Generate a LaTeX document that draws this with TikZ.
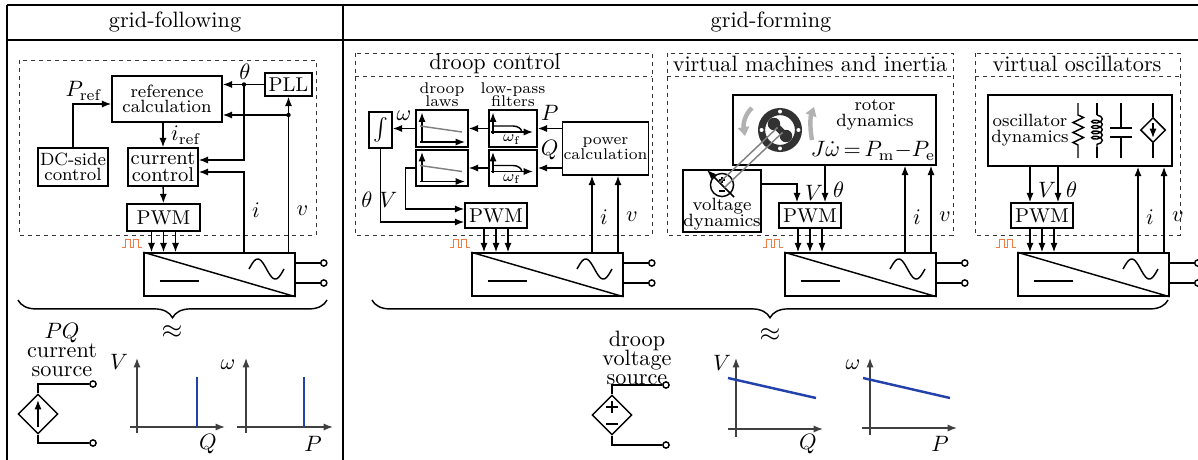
\documentclass[tikz,border=0pt]{standalone}
\usepackage{amsmath}
\usetikzlibrary{arrows.meta,shapes.geometric,decorations.pathreplacing,decorations.pathmorphing}
\definecolor{pulsecol}{RGB}{240,125,70}
\definecolor{curvecol}{RGB}{35,65,170}
\definecolor{rotorcol}{RGB}{50,50,50}
\tikzset{
  >={Latex[length=4.2pt,width=3.2pt]},
  box/.style={draw, inner sep=0.5pt, align=center},
  grp/.style={draw=black!80, line width=0.45pt, dash pattern=on 2pt off 1.6pt},
  term/.style={circle, draw, fill=white, inner sep=0pt, minimum size=2.8pt},
  dsrc/.style={diamond, draw, aspect=1, inner sep=0pt, minimum size=18pt},
  conv/.style={draw, minimum width=68pt, minimum height=19.4pt, inner sep=0pt},
  pwm/.style={box, font=\small, minimum width=27.9pt, minimum height=11.3pt},
  curve/.style={draw=curvecol, line width=1.1pt},
  axis/.style={->, draw=black!75},
}
\begin{document}
\begin{tikzpicture}[x=0.45pt, y=-0.45pt, line width=0.65pt]
\useasboundingbox (0,0) rectangle (1198,459);
\clip (0,0) rectangle (1198,459);
% table frame
\draw[line width=1pt] (7,5) -- (1210,5) (7,40) -- (1210,40) (7,5) -- (7,470) (343,5) -- (343,470);
\node (hdf) at (175,22) {grid-following};
\node (hdg) at (771,22) {grid-forming};

% grid-following
\draw[grp] (19,60) rectangle (316,235);
\node[box, font=\small, minimum width=21.2pt, minimum height=10.4pt] (pll) at (288.5,84.5) {PLL};
\node[box, font=\footnotesize, minimum width=49.5pt, minimum height=20.7pt] (refc) at (167,99) {reference\\[-2.5pt]calculation};
\node[box, font=\footnotesize, minimum width=31.5pt, minimum height=17.1pt] (dcs) at (73,167) {DC-side\\[-2.5pt]control};
\node[box, font=\small, minimum width=31.5pt, minimum height=17.1pt] (cc) at (163,167) {current\\[-3pt]control};
\node[pwm, minimum width=32.9pt, minimum height=12.2pt] (pwm1) at (163.5,217.5) {PWM};
\node[conv] (conv1) at (219.5,274.5) {};
\coordinate (thA) at (244,84.5);
\coordinate (vA) at (288.5,115);
\draw[->] (pll) -- (refc.east |- pll);
\draw[->] (thA) |- (cc.east |- 0,160);
\draw[->] (conv1.north -| pll) -- (pll) node[pos=0.27, right] (lvA) {$v$};
\draw[->] (vA) -- (refc.east |- vA);
\draw[->] (conv1.north -| thA) |- (cc.east |- 0,172) node[pos=0.26, right] (liA) {$i$};
\fill (thA) circle (1pt) (vA) circle (1pt);
\node (lthA) at (245,72) {$\theta$};
\draw[->] (refc.south -| cc.north) -- (cc.north) node[midway, right] (lirefA) {$i_{\mathrm{ref}}$};
\draw[->] (dcs.north) |- (refc.west |- 0,104);
\node (lprefA) at (84,91) {$P_{\mathrm{ref}}$};
\draw[->] (cc) -- (pwm1);
\draw[decorate, decoration={brace, mirror, amplitude=8pt}] (18,300) -- (327,300);
\node[font=\large] (apxA) at (172,332) {$\approx$};
\node[align=center] (lpqA) at (62,350) {$PQ$\\[-3.5pt]current\\[-3.5pt]source};
\node[dsrc] (srcA) at (38,414) {};
\draw[->] ([shift={(0,13)}]srcA.center) -- ([shift={(0,-14)}]srcA.center);
\node[term] (tA1) at (93,384) {};
\node[term] (tA2) at (93,443) {};
\draw (srcA.north) |- (tA1);
\draw (srcA.south) |- (tA2);
\draw[axis] (130,427) -- (225,427);
\draw[axis] (137,433) -- (137,358);
\node (lVA) at (119,362) {$V$};
\node (lQA) at (208,444) {$Q$};
\draw[curve] (197,377) -- (197,427);
\draw[axis] (237,427) -- (333,427);
\draw[axis] (246,433) -- (246,358);
\node (lwA) at (228,365) {$\omega$};
\node (lPA) at (313,444) {$P$};
\draw[curve] (304,377) -- (304,427);

% droop control
\draw[grp] (355,53) rectangle (652,235);
\draw[grp] (355,76) -- (652,76);
\node (ttlB) at (495,64) {droop control};
\node[box, minimum width=10.4pt, minimum height=16.2pt] (intg) at (380.5,130) {$\int$};
\node[box, minimum width=23.4pt, minimum height=16.7pt] (dl1) at (442,128.5) {};
\node[box, minimum width=23.4pt, minimum height=16.2pt] (dl2) at (442,168) {};
\node[box, minimum width=21.6pt, minimum height=16.7pt] (lp1) at (513,128.5) {};
\node[box, minimum width=21.6pt, minimum height=16.2pt] (lp2) at (513,168) {};
\node[box, font=\scriptsize, minimum width=38.3pt, minimum height=23.9pt] (pc) at (605.5,148.5) {power\\[-1.2pt]calculation};
\node[pwm] (pwm2) at (496,215.5) {PWM};
\node[conv] (conv2) at (547.5,274.5) {};
\node[font=\scriptsize, align=center] (ldl) at (442,95) {droop\\[-2pt]laws};
\node[font=\scriptsize, align=center] (llp) at (513,95) {low-pass\\[-2pt]filters};
\draw[->] (pc.west |- lp1) -- (lp1) node[midway, above] (lPB) {$P$};
\draw[->] (pc.west |- lp2) -- (lp2) node[midway, above] (lQB) {$Q$};
\draw[->] (lp1) -- (dl1);
\draw[->] (lp2) -- (dl2);
\draw[->] (dl1.west) -- (dl1.west -| intg.east) node[midway, above] (lwB) {$\omega$};
\draw[->] (intg) |- ([shift={(0,6.5)}]pwm2.west) node[pos=0.35, left] (lthB) {$\theta$};
\draw[->] (dl2.west) -- ++(-10,0) |- ([shift={(0,-6.5)}]pwm2.west) node[pos=0.39, left] (lVB) {$V$};
\draw[->] (conv2.north -| 592,0) -- (pc.south -| 592,0) node[pos=0.46, right] (liB) {$i$};
\draw[->] (conv2.north -| 618,0) -- (pc.south -| 618,0) node[pos=0.46, right] (lvB) {$v$};
\foreach \n in {1,2} {
  \draw[->] ([shift={(-20,14)}]dl\n.center) -- ([shift={(-20,-16)}]dl\n.center);
  \draw[->] ([shift={(-22,13.5)}]dl\n.center) -- ([shift={(23,13.5)}]dl\n.center);
  \draw[gray] ([shift={(-22,-2.5)}]dl\n.center) -- ([shift={(20,3.5)}]dl\n.center);
  \draw[->] ([shift={(-20,5)}]lp\n.center) -- ([shift={(-20,-16)}]lp\n.center);
  \draw[->] ([shift={(-22,3.5)}]lp\n.center) -- ([shift={(20,3.5)}]lp\n.center);
  \draw[shift={(lp\n.center)}] (-20,-2.5) -- (0,-2.5) .. controls (5,-2.5) and (8,0) .. (9,3.5);
  \node[font=\scriptsize] (wf\n) at ([shift={(-1,11)}]lp\n.center) {$\omega_{\mathrm{f}}$};
}
\draw[decorate, decoration={brace, mirror, amplitude=8pt}] (372,300) -- (1168,300);
\node[font=\large] (apxB) at (770,335) {$\approx$};
\node[align=center] (ldvs) at (637,358) {droop\\[-3.5pt]voltage\\[-3.5pt]source};
\node[dsrc] (srcB) at (612,415) {};
\draw (606,407) -- (618,407) (612,401) -- (612,413) (606,424) -- (618,424);
\node[term] (tB1) at (666,385) {};
\node[term] (tB2) at (666,445) {};
\draw (srcB.north) |- (tB1);
\draw (srcB.south) |- (tB2);
\draw[axis] (728,429) -- (823,429);
\draw[axis] (736,437) -- (736,358);
\node (lVB2) at (722,363) {$V$};
\node (lQB2) at (808,444) {$Q$};
\draw[curve] (728,378) -- (816,398);
\draw[axis] (862,428) -- (957,428);
\draw[axis] (870,435) -- (870,358);
\node (lwB2) at (853,365) {$\omega$};
\node (lPB2) at (940,444) {$P$};
\draw[curve] (863,378) -- (950,398);

% virtual machines and inertia
\draw[grp] (667,53) rectangle (953,235);
\draw[grp] (667,76) -- (953,76);
\node (ttlC) at (810,64) {virtual machines and inertia};
\node[box, minimum width=91.4pt, minimum height=31.5pt] (rd) at (834.5,130) {};
\node[font=\footnotesize, align=center, inner sep=0.5pt] (lrd) at (875,115) {rotor\\[-2.5pt]dynamics};
\node[inner sep=0.5pt] (lswing) at (873,151) {$J\dot{\omega}\,{=}\,P_{\mathrm{m}}{-}P_{\mathrm{e}}$};
\node[box, minimum width=35.1pt, minimum height=27.9pt] (vd) at (722,201) {};
\node[font=\footnotesize, align=center, anchor=south, inner sep=0.5pt] (lvd) at ([shift={(0,-1)}]vd.south) {voltage\\[-2.5pt]dynamics};
\node[pwm] (pwm3) at (810,215.5) {PWM};
\node[conv] (conv3) at (860.5,274.5) {};
% rotor
\draw[black!30, line width=2pt, -{Triangle[length=4pt,width=5pt]}] (752,108) .. controls (745,114) and (743,124) .. (745,136);
\draw[black!30, line width=2pt, -{Triangle[length=4pt,width=5pt]}] (812,140) .. controls (810,130) and (810,118) .. (814,107);
\draw[rotorcol, line width=3.2pt] (780,130) circle (8.3pt);
\foreach \a in {0,90,180,270} \fill[white] ([shift={(\a:8.3pt)}]780,130) circle (0.9pt);
\fill[rotorcol] (774,124) circle (2.8pt) (786,136) circle (2.8pt);
\draw[rotorcol, line width=3pt] (774,124) -- (786,136);
% voltage source with shaft
\draw (722,185) circle (5.2pt);
\draw (719,180) -- (725,180) (722,177) -- (722,183) (719,191) -- (725,191);
\draw[->] (734,197) -- (707,170);
\draw[gray] (719.5,182.5) -- (777.5,127.5) (724.5,187.5) -- (782.5,132.5);
\draw[->] (vd.east |- 0,184) -| (pwm3.north -| 797,0) node[pos=0.75, right] (lVC) {$V$};
\draw[->] (rd.south -| 825,0) -- (pwm3.north -| 825,0) node[pos=0.65, right] (lthC) {$\theta$};
\draw[->] (conv3.north -| 905,0) -- (rd.south -| 905,0) node[pos=0.41, right] (liC) {$i$};
\draw[->] (conv3.north -| 931,0) -- (rd.south -| 931,0) node[pos=0.41, right] (lvC) {$v$};

% virtual oscillators
\draw[grp] (975,53) rectangle (1180,235);
\draw[grp] (975,76) -- (1180,76);
\node (ttlD) at (1077,64) {virtual oscillators};
\node[box, minimum width=82.8pt, minimum height=32pt] (od) at (1080,130.5) {};
\node[font=\footnotesize, align=center] (lod) at (1030,130) {oscillator\\[-2.5pt]dynamics};
\draw (1078,103) -- (1078,115) -- (1083.5,117.5) -- (1073,122.5) -- (1083.5,127.5) -- (1073,132.5) -- (1083.5,137.5) -- (1073,142.5) -- (1078,145) -- (1078,158);
\draw (1097,103) -- (1097,115) (1097,147) -- (1097,158);
\draw[decorate, decoration={coil, aspect=0.5, segment length=2.4pt, amplitude=2.4pt}] (1097,115) -- (1097,147);
\draw (1121,103) -- (1121,128) (1110,128) -- (1132,128) (1110,137) -- (1132,137) (1121,137) -- (1121,158);
\node[dsrc, minimum size=11.3pt] (csrc) at (1153,130) {};
\draw (1153,103) -- (csrc.north) (csrc.south) -- (1153,158);
\draw[->] ([shift={(0,-7)}]csrc.center) -- ([shift={(0,8)}]csrc.center);
\node[pwm] (pwm4) at (1042,215.5) {PWM};
\node[conv] (conv4) at (1093.5,274.5) {};
\draw[->] (od.south -| 1030,0) -- (pwm4.north -| 1030,0) node[pos=0.65, right] (lVD) {$V$};
\draw[->] (od.south -| 1058,0) -- (pwm4.north -| 1058,0) node[pos=0.65, right] (lthD) {$\theta$};
\draw[->] (conv4.north -| 1138,0) -- (od.south -| 1138,0) node[pos=0.41, right] (liD) {$i$};
\draw[->] (conv4.north -| 1164,0) -- (od.south -| 1164,0) node[pos=0.41, right] (lvD) {$v$};

% converters
\foreach \c/\p in {conv1/pwm1,conv2/pwm2,conv3/pwm3,conv4/pwm4} {
  \foreach \d in {-12,0,12}
    \draw[->] ([shift={(\d,0)}]\p.south) -- ([shift={(\d,0)}]\p.south |- \c.north);
  \draw (\c.north west) -- (\c.south east);
  \draw ([shift={(-60,6.5)}]\c.center) -- ++(39,0);
  \draw[shift={(\c.center)}] plot[domain=0:360, samples=40, smooth] ({29.5+\x/360*35}, {-5.5-10*sin(\x)});
  \draw[pulsecol, line width=0.6pt] ([shift={(-21,-5)}]\c.north west) -- ++(3,0) -- ++(0,-8) -- ++(5,0) -- ++(0,8) -- ++(3,0) -- ++(0,-8) -- ++(5,0) -- ++(0,8) -- ++(4,0);
  \node[term] (\c-t1) at ([shift={(28,-11.5)}]\c.east) {};
  \node[term] (\c-t2) at ([shift={(28,8.5)}]\c.east) {};
  \draw ([shift={(0,-11.5)}]\c.east) -- (\c-t1);
  \draw ([shift={(0,8.5)}]\c.east) -- (\c-t2);
}
\end{tikzpicture}
\end{document}
